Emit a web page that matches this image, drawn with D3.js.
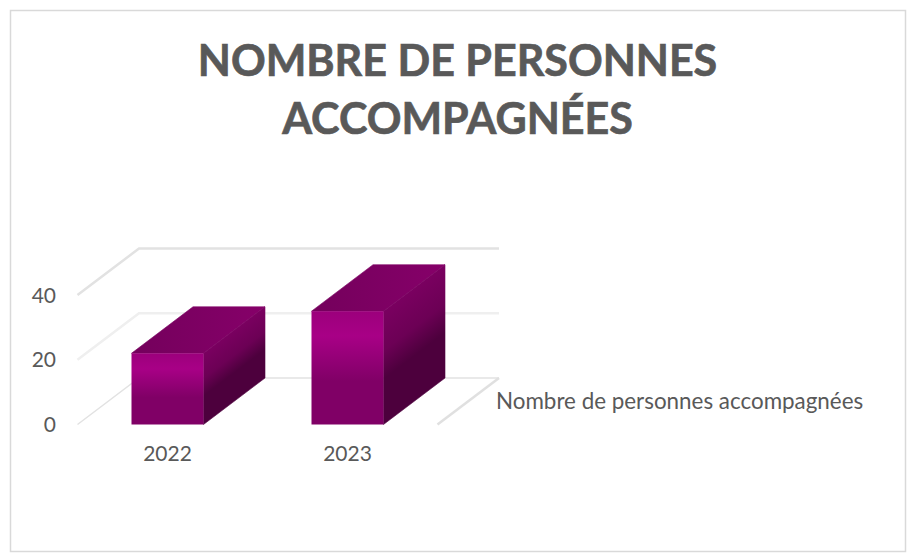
<!DOCTYPE html>
<html>
<head>
<meta charset="utf-8">
<script src="https://cdn.jsdelivr.net/npm/d3@7"></script>
<style>
  html, body { margin: 0; padding: 0; background: #fff; }
  svg { display: block; }
  text { font-family: Lato, "Open Sans", sans-serif; fill: #595959; }
  .domain { display: none; }
</style>
</head>
<body>
<div id="chart"></div>
<script>
var categories = ["2022", "2023"];
var values = [22, 35];
var yTicks = [0, 20, 40];
var seriesName = "Nombre de personnes accompagnées";
var titleLines = ["NOMBRE DE PERSONNES", "ACCOMPAGNÉES"];

var width = 910, height = 557;
// offset of the back of the 3D box
var depthX = 61.5, depthY = -46.5;

var svg = d3.select("#chart")
  .append("svg")
  .attr("width", width)
  .attr("height", height);

// chart area border
svg.append("rect")
  .attr("x", 10.5)
  .attr("y", 10.5)
  .attr("width", 895)
  .attr("height", 541)
  .attr("fill", "#fff")
  .attr("stroke", "#d9d9d9")
  .attr("stroke-width", 1.5);

var x = d3.scaleBand()
  .domain(categories)
  .range([77.5, 437.5])
  .paddingInner(0.6)
  .paddingOuter(0.3);

var y = d3.scaleLinear()
  .domain([0, 40])
  .range([424.5, 295]);

// gradients for the faces of the bars
var defs = svg.append("defs");

function addStops(g, stops) {
  stops.forEach(function(s) {
    g.append("stop").attr("offset", s[0]).attr("stop-color", s[1]);
  });
}

function addGradient(id, x2, y2, stops) {
  var g = defs.append("linearGradient")
    .attr("id", id)
    .attr("x1", 0).attr("y1", 0)
    .attr("x2", x2).attr("y2", y2);
  addStops(g, stops);
}

addGradient("front", 0, 1, [[0, "#9c007c"], [0.22, "#a80086"], [0.5, "#8c0070"], [0.62, "#800066"], [1, "#800066"]]);
addGradient("top", 1, 0, [[0, "#74005c"], [1, "#860069"]]);

var poly = d3.line();

function corners(d, i) {
  return {
    l: x(d),
    r: x(d) + x.bandwidth(),
    t: y(values[i]),
    b: y(0)
  };
}

// side shading runs along the depth of the box, so each bar gets its own gradient
categories.forEach(function(d, i) {
  var c = corners(d, i);
  var len = Math.sqrt(depthX * depthX + depthY * depthY);
  var nx = -depthY / len, ny = depthX / len;
  var h = (c.b - c.t) * ny;
  var g = defs.append("linearGradient")
    .attr("id", "side" + i)
    .attr("gradientUnits", "userSpaceOnUse")
    .attr("x1", c.r).attr("y1", c.t)
    .attr("x2", c.r + nx * h).attr("y2", c.t + ny * h);
  addStops(g, [[0, "#7a0060"], [0.35, "#6c0055"], [0.6, "#4d003d"], [1, "#4d003d"]]);
});

// back wall and floor lines
var grid = svg.append("g");
var x0 = x.range()[0], x1 = x.range()[1];

yTicks.forEach(function(t) {
  var col = t === 20 ? "#efefef" : "#e2e2e2";
  var sw = t === 0 ? 1.5 : 2.5;
  grid.append("path")
    .attr("d", poly([[x0, y(t)], [x0 + depthX, y(t) + depthY], [x1 + depthX, y(t) + depthY]]))
    .attr("fill", "none")
    .attr("stroke", col)
    .attr("stroke-width", sw);
});

grid.append("path")
  .attr("d", poly([[x1 + depthX, y(0) + depthY], [x1, y(0)]]))
  .attr("fill", "none")
  .attr("stroke", "#e0e0e0")
  .attr("stroke-width", 2.5);

// bars
var bars = svg.selectAll(".bar")
  .data(categories)
  .enter().append("g")
  .attr("class", "bar");

// thin stroke in the face colour closes the seams between the faces
bars.append("path")
  .attr("fill", "url(#top)")
  .attr("stroke", "url(#top)")
  .attr("stroke-width", 0.6)
  .attr("d", function(d, i) {
    var c = corners(d, i);
    return poly([[c.l, c.t], [c.r, c.t], [c.r + depthX, c.t + depthY], [c.l + depthX, c.t + depthY]]) + "Z";
  });

bars.append("path")
  .attr("fill", function(d, i) { return "url(#side" + i + ")"; })
  .attr("stroke", function(d, i) { return "url(#side" + i + ")"; })
  .attr("stroke-width", 0.6)
  .attr("d", function(d, i) {
    var c = corners(d, i);
    return poly([[c.r, c.t], [c.r + depthX, c.t + depthY], [c.r + depthX, c.b + depthY], [c.r, c.b]]) + "Z";
  });

bars.append("rect")
  .attr("fill", "url(#front)")
  .attr("x", function(d) { return x(d); })
  .attr("y", function(d, i) { return y(values[i]); })
  .attr("width", x.bandwidth())
  .attr("height", function(d, i) { return y(0) - y(values[i]); });

// axes
var xAxis = d3.axisBottom(x).tickSize(0).tickPadding(0);
var yAxis = d3.axisLeft(y).tickValues(yTicks).tickSize(0).tickPadding(0);

svg.append("g")
  .attr("transform", "translate(0,446)")
  .call(xAxis)
  .selectAll("text")
  .style("font-size", "21px");

svg.append("g")
  .attr("transform", "translate(56,0.5)")
  .call(yAxis)
  .selectAll("text")
  .style("font-size", "21px");

// series label
svg.append("text")
  .attr("x", 496)
  .attr("y", 409)
  .style("font-size", "22.4px")
  .text(seriesName);

// title
svg.selectAll(".title")
  .data(titleLines)
  .enter().append("text")
  .attr("class", "title")
  .attr("x", 457.5)
  .attr("y", function(d, i) { return 75.5 + i * 58.5; })
  .attr("text-anchor", "middle")
  .style("font-size", "43px")
  .style("font-weight", "700")
  .style("stroke", "#595959")
  .style("stroke-width", "0.7px")
  .text(function(d) { return d; });
</script>
</body>
</html>
